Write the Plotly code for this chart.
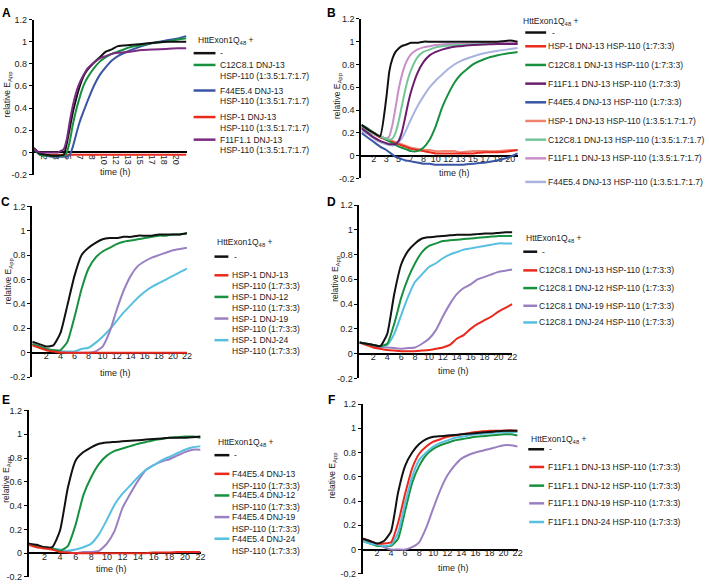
import plotly.graph_objects as go

W, H = 709, 585

# ---------------- data ----------------
# Panels A and B: category-like time axis (positions 1..12 labelled with hours)
time_labels_AB = ['2', '3', '5', '7', '8', '10', '12', '13', '15', '17', '18', '20']
xA = [0, 0.5, 1, 1.5, 2, 2.5, 2.75, 3, 3.25, 3.5, 3.75, 4, 4.25, 4.5, 5, 5.5, 6, 6.5, 7, 8, 9, 10, 11, 12, 12.7]
A_none = [0.04, -0.01, -0.02, -0.03, -0.03, -0.02, 0.08, 0.22, 0.36, 0.47, 0.57, 0.65, 0.71, 0.75, 0.81, 0.86, 0.91, 0.93, 0.96, 0.97, 0.98, 0.99, 1.0, 1.0, 1.0]
A_C12 = [0.03, -0.02, -0.03, -0.03, -0.03, -0.03, 0.0, 0.1, 0.25, 0.37, 0.47, 0.56, 0.63, 0.68, 0.76, 0.82, 0.86, 0.89, 0.91, 0.95, 0.97, 0.99, 1.0, 1.02, 1.03]
A_F44 = [0.03, -0.02, -0.03, -0.04, -0.04, -0.04, -0.04, -0.02, 0.05, 0.15, 0.25, 0.33, 0.4, 0.47, 0.6, 0.7, 0.77, 0.83, 0.87, 0.92, 0.96, 0.99, 1.01, 1.03, 1.05]
A_HSP1 = [0.03, -0.01, -0.02, -0.02, -0.02, -0.02, -0.02, -0.02, -0.02, -0.02, -0.02, -0.02, -0.02, -0.02, -0.02, -0.02, -0.02, -0.02, -0.02, -0.02, -0.02, -0.02, -0.02, -0.02, -0.02]
A_F11 = [0.03, 0.0, 0.0, 0.0, 0.0, 0.03, 0.12, 0.28, 0.42, 0.53, 0.61, 0.67, 0.72, 0.76, 0.81, 0.85, 0.87, 0.89, 0.9, 0.91, 0.925, 0.93, 0.935, 0.94, 0.94]

xB = [0, 0.5, 1, 1.5, 2, 2.25, 2.5, 2.75, 3, 3.25, 3.5, 3.75, 4, 4.5, 5, 5.5, 6, 6.5, 7, 7.5, 8, 9, 10, 11, 12, 12.6]
B_none = [0.27, 0.23, 0.2, 0.17, 0.5, 0.74, 0.85, 0.91, 0.94, 0.96, 0.97, 0.98, 0.99, 0.99, 1.0, 1.0, 1.0, 1.0, 1.0, 1.0, 1.0, 1.0, 1.0, 1.0, 1.01, 1.0]
B_HSP1_7 = [0.25, 0.22, 0.19, 0.16, 0.14, 0.13, 0.12, 0.11, 0.1, 0.09, 0.08, 0.07, 0.06, 0.05, 0.04, 0.03, 0.02, 0.02, 0.02, 0.02, 0.02, 0.02, 0.03, 0.03, 0.04, 0.05]
B_C12_7 = [0.27, 0.24, 0.2, 0.17, 0.14, 0.125, 0.11, 0.095, 0.08, 0.07, 0.06, 0.05, 0.04, 0.04, 0.07, 0.14, 0.26, 0.42, 0.54, 0.64, 0.71, 0.8, 0.85, 0.88, 0.9, 0.91]
B_F11_7 = [0.24, 0.2, 0.16, 0.13, 0.11, 0.1, 0.1, 0.1, 0.13, 0.2, 0.32, 0.45, 0.56, 0.72, 0.82, 0.88, 0.91, 0.93, 0.945, 0.955, 0.96, 0.97, 0.975, 0.98, 0.98, 0.98]
B_F44_7 = [0.2, 0.16, 0.12, 0.08, 0.05, 0.03, 0.01, -0.01, -0.02, -0.03, -0.04, -0.045, -0.05, -0.06, -0.07, -0.07, -0.08, -0.08, -0.08, -0.08, -0.08, -0.07, -0.06, -0.04, -0.01, 0.02]
B_HSP1_35 = [0.26, 0.23, 0.2, 0.17, 0.15, 0.14, 0.13, 0.12, 0.11, 0.1, 0.09, 0.08, 0.07, 0.06, 0.05, 0.05, 0.04, 0.04, 0.04, 0.04, 0.03, 0.04, 0.04, 0.04, 0.05, 0.05]
B_C12_35 = [0.25, 0.22, 0.19, 0.17, 0.15, 0.14, 0.15, 0.2, 0.3, 0.43, 0.56, 0.67, 0.75, 0.86, 0.91, 0.93, 0.95, 0.96, 0.965, 0.97, 0.97, 0.975, 0.98, 0.98, 0.98, 0.98]
B_F11_35 = [0.26, 0.23, 0.2, 0.17, 0.15, 0.17, 0.27, 0.42, 0.58, 0.7, 0.79, 0.85, 0.89, 0.93, 0.95, 0.96, 0.97, 0.975, 0.98, 0.98, 0.98, 0.985, 0.99, 0.99, 0.99, 0.99]
B_F44_35 = [0.22, 0.19, 0.15, 0.12, 0.1, 0.095, 0.09, 0.1, 0.12, 0.15, 0.2, 0.26, 0.32, 0.43, 0.52, 0.6, 0.66, 0.71, 0.76, 0.8, 0.83, 0.87, 0.9, 0.92, 0.935, 0.945]

# Panels C-F: time in hours
hours = list(range(0, 23))
time_ticks = list(range(2, 23, 2))

C_none = [0.09, 0.07, 0.05, 0.06, 0.16, 0.39, 0.63, 0.8, 0.86, 0.9, 0.93, 0.94, 0.94, 0.95, 0.95, 0.96, 0.96, 0.96, 0.97, 0.97, 0.97, 0.97, 0.98]
C_DNJ13 = [0.06, 0.04, 0.02, 0.01, 0.0, 0.0, 0.0, 0.0, 0.0, 0.0, 0.0, 0.0, 0.0, 0.0, 0.0, 0.0, 0.0, 0.0, 0.0, 0.0, 0.0, 0.0, 0.0]
C_DNJ12 = [0.07, 0.05, 0.03, 0.02, 0.02, 0.09, 0.29, 0.52, 0.69, 0.78, 0.83, 0.86, 0.89, 0.91, 0.92, 0.93, 0.94, 0.95, 0.96, 0.96, 0.97, 0.97, 0.98]
C_DNJ19 = [0.07, 0.05, 0.03, 0.02, 0.01, 0.0, 0.0, 0.0, 0.0, 0.01, 0.05, 0.17, 0.35, 0.51, 0.63, 0.71, 0.75, 0.78, 0.8, 0.82, 0.84, 0.85, 0.86]
C_DNJ24 = [0.07, 0.05, 0.03, 0.02, 0.01, 0.01, 0.01, 0.03, 0.04, 0.08, 0.13, 0.19, 0.26, 0.33, 0.39, 0.45, 0.5, 0.54, 0.57, 0.6, 0.63, 0.66, 0.69]

D_none = [0.09, 0.08, 0.07, 0.06, 0.16, 0.48, 0.72, 0.83, 0.89, 0.93, 0.94, 0.945, 0.95, 0.955, 0.96, 0.96, 0.96, 0.965, 0.97, 0.97, 0.975, 0.98, 0.98]
D_DNJ13 = [0.09, 0.07, 0.05, 0.04, 0.03, 0.025, 0.02, 0.02, 0.02, 0.025, 0.03, 0.04, 0.05, 0.07, 0.12, 0.15, 0.2, 0.24, 0.27, 0.3, 0.34, 0.37, 0.4]
D_DNJ12 = [0.09, 0.08, 0.07, 0.06, 0.08, 0.24, 0.45, 0.61, 0.73, 0.82, 0.87, 0.89, 0.91, 0.915, 0.92, 0.925, 0.93, 0.935, 0.94, 0.945, 0.95, 0.95, 0.95]
D_DNJ19 = [0.09, 0.08, 0.06, 0.055, 0.05, 0.045, 0.04, 0.045, 0.05, 0.08, 0.12, 0.19, 0.3, 0.4, 0.48, 0.53, 0.56, 0.6, 0.62, 0.64, 0.66, 0.67, 0.68]
D_DNJ24 = [0.09, 0.08, 0.07, 0.06, 0.07, 0.16, 0.31, 0.46, 0.58, 0.64, 0.7, 0.73, 0.77, 0.8, 0.82, 0.84, 0.85, 0.86, 0.87, 0.88, 0.89, 0.89, 0.89]

E_none = [0.08, 0.07, 0.05, 0.05, 0.19, 0.55, 0.78, 0.85, 0.89, 0.92, 0.93, 0.935, 0.94, 0.945, 0.95, 0.955, 0.96, 0.965, 0.97, 0.97, 0.97, 0.975, 0.98]
E_DNJ13 = [0.07, 0.05, 0.04, 0.03, 0.01, 0.005, 0.0, 0.0, 0.0, 0.0, 0.0, 0.0, 0.0, 0.0, 0.0, 0.0, 0.005, 0.005, 0.005, 0.01, 0.01, 0.01, 0.01]
E_DNJ12 = [0.08, 0.06, 0.05, 0.04, 0.02, 0.06, 0.24, 0.49, 0.64, 0.75, 0.82, 0.86, 0.88, 0.9, 0.92, 0.935, 0.95, 0.96, 0.97, 0.975, 0.98, 0.98, 0.97]
E_DNJ19 = [0.08, 0.06, 0.05, 0.03, 0.02, 0.01, 0.0, 0.01, 0.01, 0.02, 0.08, 0.19, 0.38, 0.5, 0.61, 0.7, 0.74, 0.77, 0.79, 0.82, 0.85, 0.87, 0.87]
E_DNJ24 = [0.08, 0.06, 0.05, 0.04, 0.03, 0.02, 0.03, 0.05, 0.08, 0.16, 0.28, 0.41, 0.5, 0.57, 0.64, 0.7, 0.74, 0.78, 0.81, 0.84, 0.87, 0.89, 0.9]

F_none = [0.09, 0.07, 0.05, 0.07, 0.15, 0.47, 0.69, 0.8, 0.87, 0.91, 0.93, 0.935, 0.94, 0.945, 0.95, 0.955, 0.96, 0.965, 0.97, 0.975, 0.98, 0.98, 0.98]
F_DNJ13 = [0.09, 0.07, 0.05, 0.05, 0.06, 0.22, 0.46, 0.67, 0.79, 0.85, 0.89, 0.91, 0.93, 0.94, 0.95, 0.96, 0.97, 0.975, 0.98, 0.98, 0.98, 0.985, 0.98]
F_DNJ12 = [0.07, 0.05, 0.03, 0.03, 0.03, 0.09, 0.32, 0.55, 0.69, 0.78, 0.83, 0.86, 0.88, 0.9, 0.91, 0.92, 0.93, 0.935, 0.94, 0.945, 0.95, 0.95, 0.94]
F_DNJ19 = [0.08, 0.06, 0.04, 0.02, 0.0, 0.0, 0.0, 0.02, 0.06, 0.18, 0.34, 0.49, 0.61, 0.69, 0.75, 0.78, 0.8, 0.815, 0.83, 0.845, 0.86, 0.86, 0.85]
F_DNJ24 = [0.07, 0.05, 0.04, 0.03, 0.04, 0.14, 0.38, 0.6, 0.74, 0.8, 0.85, 0.88, 0.9, 0.92, 0.93, 0.94, 0.95, 0.955, 0.96, 0.965, 0.97, 0.97, 0.97]

y_ticks = [-0.2, 0, 0.2, 0.4, 0.6, 0.8, 1, 1.2]
y_tick_text = ['-0.2', '0', '0.2', '0.4', '0.6', '0.8', '1', '1.2']

# ---------------- styles ----------------
BLACK = '#111111'
RED = '#e8291c'
GREEN = '#17913f'
BLUE = '#3b55a5'
PURPLE = '#7a2a80'
DPURPLE = '#6b1e6e'
LRED = '#f2836f'
LGREEN = '#74c598'
PINK = '#c98fca'
LBLUE = '#a9b3de'
LAV = '#9a80c1'
CYAN = '#57bfe0'
FONT = 'Liberation Sans, Arial, sans-serif'
TXT = '#222222'


def px(x):
    return x / W


def py(y):
    return 1 - y / H


fig = go.Figure()
shapes = []
annotations = []

panels = [
    dict(n=1, xd=(34, 188), yd=(14.8, 172.5), xr=[0, 12.73], zero=150.0, ab=True),
    dict(n=2, xd=(364, 522), yd=(14.1, 176.5), xr=[0, 12.66], zero=153.3, ab=True),
    dict(n=3, xd=(32.5, 188.3), yd=(204.9, 378.5), xr=[0, 22], zero=353.7, ab=False),
    dict(n=4, xd=(362, 516), yd=(203.5, 379.9), xr=[0, 22], zero=354.7, ab=False),
    dict(n=5, xd=(29, 202), yd=(412.5, 581.9), xr=[0, 22], zero=557.7, ab=False),
    dict(n=6, xd=(365.5, 521.3), yd=(406.0, 578.7), xr=[0, 22], zero=554.0, ab=False),
]

layout_axes = {}
for p in panels:
    n = p['n']
    xk = 'xaxis' if n == 1 else f'xaxis{n}'
    yk = 'yaxis' if n == 1 else f'yaxis{n}'
    if p['ab']:
        tv, tt = list(range(1, 13)), time_labels_AB
    else:
        tv, tt = time_ticks, [str(t) for t in time_ticks]
    layout_axes[xk] = dict(
        domain=[px(p['xd'][0]), px(p['xd'][1])], range=p['xr'],
        anchor='free', position=py(p['zero']),
        showline=True, linecolor='black', linewidth=2,
        ticks='', ticklen=0, ticklabelstandoff=-5,
        tickvals=tv, ticktext=tt, tickfont=dict(size=9, color=TXT, family=FONT),
        showgrid=False, zeroline=False, layer='below traces', fixedrange=True,
    )
    layout_axes[yk] = dict(
        domain=[py(p['yd'][1]), py(p['yd'][0])], range=[-0.2, 1.2],
        anchor='x' if n == 1 else f'x{n}',
        showline=True, linecolor='black', linewidth=2,
        ticks='outside', ticklen=3, tickwidth=1, tickcolor='black',
        tickvals=y_ticks, ticktext=y_tick_text, tickfont=dict(size=9, color=TXT, family=FONT),
        showgrid=False, zeroline=False, fixedrange=True,
    )


def add(n, x, y, color):
    fig.add_trace(go.Scatter(
        x=x, y=y, mode='lines', showlegend=False, hoverinfo='skip',
        line=dict(color=color, width=2, shape='spline', smoothing=0.5),
        xaxis='x' if n == 1 else f'x{n}', yaxis='y' if n == 1 else f'y{n}'))


# Panel A
add(1, xA, A_HSP1, RED)
add(1, xA, A_F44, BLUE)
add(1, xA, A_C12, GREEN)
add(1, xA, A_none, BLACK)
add(1, xA, A_F11, PURPLE)
# Panel B
add(2, xB, B_HSP1_35, LRED)
add(2, xB, B_HSP1_7, RED)
add(2, xB, B_F44_7, BLUE)
add(2, xB, B_F44_35, LBLUE)
add(2, xB, B_C12_7, GREEN)
add(2, xB, B_F11_35, PINK)
add(2, xB, B_C12_35, LGREEN)
add(2, xB, B_F11_7, DPURPLE)
add(2, xB, B_none, BLACK)
# Panel C
add(3, hours, C_DNJ24, CYAN)
add(3, hours, C_DNJ19, LAV)
add(3, hours, C_DNJ12, GREEN)
add(3, hours, C_none, BLACK)
add(3, hours, C_DNJ13, RED)
# Panel D
add(4, hours, D_DNJ19, LAV)
add(4, hours, D_DNJ13, RED)
add(4, hours, D_DNJ24, CYAN)
add(4, hours, D_DNJ12, GREEN)
add(4, hours, D_none, BLACK)
# Panel E
add(5, hours, E_DNJ19, LAV)
add(5, hours, E_DNJ24, CYAN)
add(5, hours, E_DNJ12, GREEN)
add(5, hours, E_none, BLACK)
add(5, hours, E_DNJ13, RED)
# Panel F
add(6, hours, F_DNJ19, LAV)
add(6, hours, F_DNJ12, GREEN)
add(6, hours, F_DNJ24, CYAN)
add(6, hours, F_DNJ13, RED)
add(6, hours, F_none, BLACK)


def text(x, y, s, size=8.5, xanchor='left', angle=0, bold=False, color=TXT):
    if bold:
        s = f'<b>{s}</b>'
    annotations.append(dict(
        x=px(x), y=py(y), xref='paper', yref='paper', text=s, showarrow=False,
        xanchor=xanchor, yanchor='middle', textangle=angle,
        font=dict(size=size, color=color, family=FONT)))


def seg(x0, x1, y, color):
    shapes.append(dict(type='line', xref='paper', yref='paper',
                       x0=px(x0), x1=px(x1), y0=py(y), y1=py(y),
                       line=dict(color=color, width=2.5)))


TITLE = 'HttExon1Q<sub>48</sub> +'

# panel letters
for lab, (lx, ly) in zip('ABCDEF', [(7, 8), (334, 8), (6, 200), (334, 200), (6, 402), (334, 402)]):
    text(lx, ly, lab, size=12, xanchor='center', bold=True, color='black')

# y titles
for (tx, ty) in [(8, 90), (340, 92), (8, 280), (338, 278), (7, 482), (335, 478)]:
    text(tx, ty, 'relative E<sub>App</sub>', size=8.5, xanchor='center', angle=-90)

# x titles
for (tx, ty) in [(116, 170), (458, 171), (116, 374), (457, 372), (112, 574), (457, 573)]:
    text(tx, ty, 'time (h)', size=9, xanchor='center')

# Legend A
text(197, 36, TITLE)
seg(195, 217, 49, BLACK); text(220, 49, '-')
legA = [(GREEN, 'C12C8.1 DNJ-13'), (BLUE, 'F44E5.4 DNJ-13'), (RED, 'HSP-1 DNJ-13'), (PURPLE, 'F11F1.1 DNJ-13')]
for (c, s), yy in zip(legA, [61, 87, 114, 137]):
    seg(195, 217, yy, c)
    text(220, yy, s)
    text(220, yy + 11, 'HSP-110 (1:3.5:1.7:1.7)')

# Legend B
text(525, 17, TITLE)
seg(529, 550, 28, BLACK); text(554, 28, '-')
legB = [(RED, 'HSP-1 DNJ-13 HSP-110 (1:7:3:3)'),
        (GREEN, 'C12C8.1 DNJ-13 HSP-110 (1:7:3:3)'),
        (DPURPLE, 'F11F1.1 DNJ-13 HSP-110 (1:7:3:3)'),
        (BLUE, 'F44E5.4 DNJ-13 HSP-110 (1:7:3:3)'),
        (LRED, 'HSP-1 DNJ-13 HSP-110 (1:3.5:1.7:1.7)'),
        (LGREEN, 'C12C8.1 DNJ-13 HSP-110 (1:3.5:1.7:1.7)'),
        (PINK, 'F11F1.1 DNJ-13 HSP-110 (1:3.5:1.7:1.7)'),
        (LBLUE, 'F44E5.4 DNJ-13 HSP-110 (1:3.5:1.7:1.7)')]
for (c, s), yy in zip(legB, [42, 61, 80, 99, 118, 137, 156, 180]):
    seg(529, 550, yy, c)
    text(550, yy, s)

# Legend C
text(217, 242, TITLE)
seg(216, 230, 256, BLACK); text(234, 256, '-')
legC = [(RED, 'HSP-1 DNJ-13'), (GREEN, 'HSP-1 DNJ-12'), (LAV, 'HSP-1 DNJ-19'), (CYAN, 'HSP-1 DNJ-24')]
for (c, s), yy in zip(legC, [275, 297, 319, 341]):
    seg(216, 230, yy, c)
    text(232, yy, s)
    text(232, yy + 11, 'HSP-110 (1:7:3:3)')

# Legend D
text(528, 238, TITLE)
seg(527, 541, 251, BLACK); text(544, 251, '-')
legD = [(RED, 'C12C8.1 DNJ-13 HSP-110 (1:7:3:3)'), (GREEN, 'C12C8.1 DNJ-12 HSP-110 (1:7:3:3)'),
        (LAV, 'C12C8.1 DNJ-19 HSP-110 (1:7:3:3)'), (CYAN, 'C12C8.1 DNJ-24 HSP-110 (1:7:3:3)')]
for (c, s), yy in zip(legD, [270, 288, 306, 323]):
    seg(527, 541, yy, c)
    text(541, yy, s)

# Legend E
text(218, 445, TITLE)
seg(216, 231, 458, BLACK); text(234, 458, '-')
legE = [(RED, 'F44E5.4 DNJ-13'), (GREEN, 'F44E5.4 DNJ-12'), (LAV, 'F44E5.4 DNJ-19'), (CYAN, 'F44E5.4 DNJ-24')]
for (c, s), yy in zip(legE, [477, 499, 521, 543]):
    seg(216, 231, yy, c)
    text(232, yy, s)
    text(232, yy + 12, 'HSP-110 (1:7:3:3)')

# Legend F
text(533, 442, TITLE)
seg(532, 548, 452, BLACK); text(551, 452, '-')
legF = [(RED, 'F11F1.1 DNJ-13 HSP-110 (1:7:3:3)'), (GREEN, 'F11F1.1 DNJ-12 HSP-110 (1:7:3:3)'),
        (LAV, 'F11F1.1 DNJ-19 HSP-110 (1:7:3:3)'), (CYAN, 'F11F1.1 DNJ-24 HSP-110 (1:7:3:3)')]
for (c, s), yy in zip(legF, [470, 489, 507, 526]):
    seg(533, 548, yy, c)
    text(550, yy, s)

fig.update_layout(
    width=W, height=H, margin=dict(l=0, r=0, t=0, b=0),
    paper_bgcolor='white', plot_bgcolor='white',
    showlegend=False, shapes=shapes, annotations=annotations,
    font=dict(family=FONT, size=9, color=TXT),
    **layout_axes,
)

fig.write_html('out.html', config={'displayModeBar': False},
               post_script="document.body.style.margin='0';document.body.style.overflow='hidden';")
